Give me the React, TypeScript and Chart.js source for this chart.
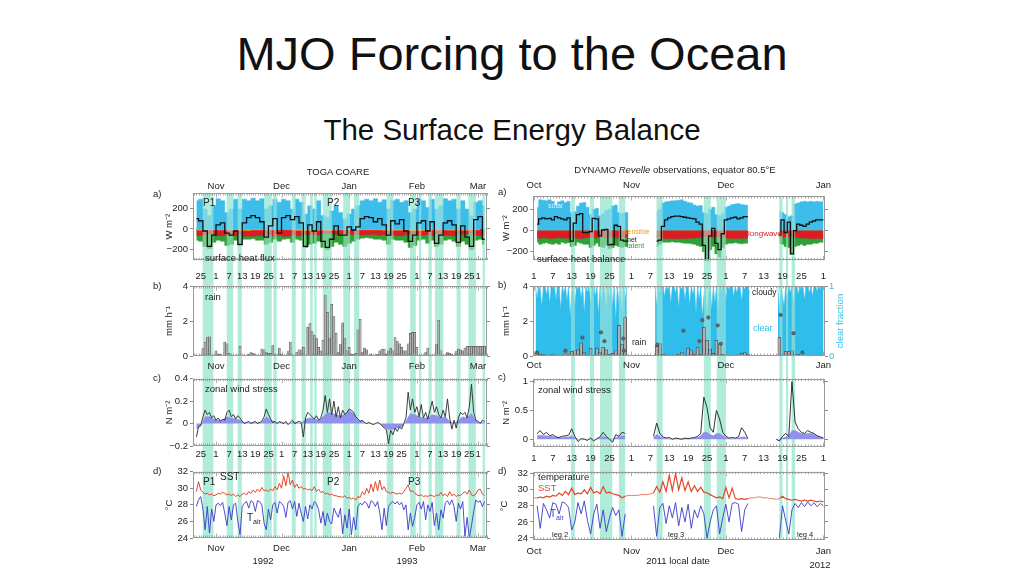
import React, { useEffect, useRef } from 'react';
import { Chart, registerables } from 'chart.js';

Chart.register(...registerables);

const FONT = "'Liberation Sans', Arial, Helvetica, sans-serif";
const TXT = '#222';
const FRAME = '#9a9a9a';
const TICK = '#8a8a8a';
const BAND = '#b0ecd9';
const BAND_OVER = 'rgba(176,236,217,0.55)';
const BLUE = '#3dbdea';
const GREEN = '#2f9f37';
const RED = '#dc1c24';
const ORANGE = '#f29a1f';
const PURPLE = '#8f91ec';
const SST_RED = '#e3462d';
const TAIR_BLUE = '#3a3acb';
const CYAN = '#2fbdeb';
const BAR_GRAY = '#b0b0b0';

// ---------------- axis labels ----------------
const L_MONTH_DAYS = [0, 30, 61, 92, 120];
const L_MONTH_LABELS = ['Nov', 'Dec', 'Jan', 'Feb', 'Mar'];
const L_DAY_TICKS = [-7, 0, 6, 12, 18, 24, 30, 36, 42, 48, 54, 61, 67, 73, 79, 85, 92, 98, 104, 110, 116, 120];
const L_DAY_LABELS = ['25', '1', '7', '13', '19', '25', '1', '7', '13', '19', '25', '1', '7', '13', '19', '25', '1', '7', '13', '19', '25', '1'];
const R_MONTH_DAYS = [0, 31, 61, 92];
const R_MONTH_LABELS = ['Oct', 'Nov', 'Dec', 'Jan'];
const R_DAY_TICKS = [0, 6, 12, 18, 24, 31, 37, 43, 49, 55, 61, 67, 73, 79, 85, 92];
const R_DAY_LABELS = ['1', '7', '13', '19', '25', '1', '7', '13', '19', '25', '1', '7', '13', '19', '25', '1'];

// rain-event bands [start, end] in days
const L_BANDS = [[-6.1, -1.2], [4.9, 7.9], [9.9, 11.8], [22.1, 25.5], [26.3, 27.8], [34.7, 36.5], [39.2, 41.1], [43.1, 44.3], [45, 46.1], [48.9, 53], [58.3, 61.4], [63.2, 65.6], [78.2, 81.2], [88.9, 91.5], [93, 94], [97.3, 98.8], [100.3, 104.1], [110.2, 112], [115.6, 119], [122.1, 123.2]];
const R_BANDS = [[11.8, 13.0], [17.8, 19.1], [21, 24.9], [27, 29], [39, 40.9], [54, 56.2], [58.1, 61], [78, 79], [80.1, 80.8], [81.9, 83]];

// ---------------- TOGA COARE (day 0 = 1 Nov 1992) ----------------
const L_FLUX_START = -9; // 2-day steps
const L_SOLAR = [275, 290, 195, 130, 225, 295, 275, 160, 195, 290, 195, 290, 275, 300, 275, 295, 195, 225, 290, 260, 290, 275, 195, 290, 260, 145, 225, 195, 275, 130, 115, 175, 225, 160, 95, 145, 195, 225, 275, 290, 275, 295, 260, 285, 195, 275, 290, 260, 275, 160, 195, 290, 275, 210, 290, 195, 225, 295, 275, 290, 195, 275, 195, 130, 260, 275, 225];
const L_NET = [100, 80, -20, -170, -60, 40, 60, -40, -60, -20, -150, 60, 110, 130, 110, 70, -80, 30, 100, -40, 110, 130, 90, 120, 60, -170, 40, -20, 70, -120, -180, -100, 30, -60, -60, 20, -10, 20, 100, 120, 110, 70, 100, 40, -60, 80, 50, 90, -20, -120, -60, 60, 80, -20, 70, -140, -60, 60, 80, 40, -130, 30, -80, -170, 90, 120, -100];
const L_LATENT = [-110, -120, -170, -190, -130, -110, -120, -160, -150, -110, -160, -100, -100, -95, -110, -110, -150, -130, -100, -120, -100, -95, -130, -100, -110, -180, -150, -140, -120, -180, -200, -170, -130, -150, -170, -140, -120, -100, -90, -85, -90, -100, -100, -110, -150, -100, -110, -110, -130, -180, -160, -110, -100, -140, -110, -170, -150, -110, -100, -120, -170, -120, -150, -200, -110, -100, -150];
const L_LONGWAVE = [-65, -60, -55, -50, -55, -65, -65, -55, -55, -65, -55, -70, -70, -70, -65, -65, -55, -60, -70, -60, -70, -70, -60, -65, -65, -50, -55, -55, -60, -45, -40, -45, -55, -50, -45, -50, -55, -55, -60, -55, -55, -55, -60, -55, -50, -60, -65, -65, -55, -50, -55, -60, -60, -55, -60, -50, -55, -60, -60, -65, -50, -55, -50, -45, -60, -60, -55];
const L_SENS_START = -9; // 10-day steps
const L_SENSIBLE = [-12, -10, -14, -10, -8, -15, -12, -10, -9, -12, -14, -10, -12, -10];

const L_RAIN_START = -8; // daily
const L_RAIN = [0, 0.05, 0.42, 0.8, 1.05, 1.1, 0, 0, 0.3, 0.1, 0.1, 0, 0.8, 0.7, 0.15, 0, 0, 0.05, 0, 0.55, 0, 0, 0, 0.1, 0.2, 0.15, 0.08, 0, 0, 0.4, 0.35, 0.2, 0.15, 0.15, 0.6, 0.1, 0, 0.45, 0.1, 0, 0, 0.25, 0.8, 0.05, 0, 0.2, 0.35, 0.35, 0.5, 0, 1.65, 1.85, 1.4, 1.2, 1.0, 0.5, 0.3, 0.9, 3.45, 2.5, 1.0, 2.95, 2.25, 1.3, 0.2, 0.65, 1.9, 1.0, 0.3, 0.5, 0.1, 0.1, 0.15, 1.5, 2.1, 0.2, 0.45, 0.35, 0.05, 0.1, 0, 0.05, 0.1, 0.3, 0.4, 0.4, 0.1, 0.3, 0.45, 0.3, 1.05, 0.85, 0.7, 0.5, 0.3, 0.3, 0.7, 1.3, 1.35, 1.35, 0.5, 0, 0, 0, 0.2, 0.45, 0, 0, 0, 0.65, 2.05, 0.3, 0, 0, 0.2, 0.15, 0.1, 0, 0.25, 0.4, 0.35, 0.3, 0.45, 0.55, 0.55, 0.55, 0.55, 0.55, 0.55, 0.55, 0.55, 0.55];

const L_DAILY_START = -9; // daily
const L_WIND = [-0.12, -0.03, -0.02, 0.06, 0.12, 0.08, 0.1, 0.05, 0.07, 0.03, 0.05, 0.02, 0.04, 0.03, 0.1, 0.12, 0.06, 0.08, 0.04, 0.07, 0.05, 0.02, 0.0, 0.01, 0.02, 0.0, 0.01, 0.02, 0.0, 0.01, 0.02, 0.06, 0.13, 0.08, 0.04, 0.01, 0.02, 0.0, 0.02, 0.01, 0.0, 0.02, -0.01, 0.01, 0.03, 0.0, 0.01, 0.02, 0.01, -0.12, 0.05, 0.1, 0.08, 0.06, 0.04, 0.07, 0.03, 0.05, 0.12, 0.25, 0.1, 0.22, 0.08, 0.2, 0.06, 0.15, 0.05, 0.12, 0.08, 0.1, 0.13, 0.12, 0.1, 0.06, 0.04, 0.02, 0.03, 0.01, 0.0, 0.01, 0.0, -0.01, 0.0, 0.01, 0.0, -0.02, -0.04, -0.05, -0.18, -0.06, -0.1, -0.04, -0.07, -0.03, -0.05, 0.0, 0.05, 0.28, 0.12, 0.22, 0.1, 0.15, 0.06, 0.17, 0.05, 0.1, 0.04, 0.12, 0.2, 0.1, 0.15, 0.08, 0.05, 0.12, 0.06, 0.22, 0.05, -0.05, 0.03, -0.04, 0.05, 0.1, 0.08, 0.1, 0.05, 0.15, 0.35, 0.1, 0.03, 0.02, 0.0, 0.03, 0.02];
const L_WIND_MEAN_START = -9; // 2-day steps
const L_WIND_MEAN = [-0.05, -0.02, 0.06, 0.06, 0.04, 0.03, 0.03, 0.06, 0.05, 0.04, 0.03, 0.01, 0.01, 0.01, 0.01, 0.01, 0.06, 0.03, 0.01, 0.01, 0.01, 0.0, 0.01, 0.01, 0.0, 0.04, 0.05, 0.04, 0.03, 0.06, 0.1, 0.09, 0.08, 0.07, 0.08, 0.12, 0.09, 0.03, 0.02, 0.0, 0.0, 0.0, 0.0, -0.03, -0.05, -0.05, -0.04, -0.03, 0.02, 0.09, 0.08, 0.06, 0.05, 0.05, 0.08, 0.07, 0.05, 0.06, 0.02, 0.0, 0.03, 0.06, 0.05, 0.09, 0.02, 0.01, 0.01];
const L_SST = [29.6, 30.8, 29.8, 29.5, 29.3, 29.4, 29.2, 29.3, 29.1, 29.2, 29.4, 29.3, 29.5, 29.4, 29.2, 29.3, 29.1, 29.3, 29.0, 29.2, 29.0, 29.3, 29.4, 29.2, 29.6, 29.4, 29.8, 29.5, 29.9, 29.6, 30.1, 29.7, 29.8, 29.6, 29.9, 29.7, 30.2, 29.8, 30.6, 30.0, 31.5, 30.3, 32.0, 30.4, 31.0, 30.1, 30.5, 30.0, 30.2, 29.9, 30.0, 29.8, 29.9, 29.7, 30.2, 29.6, 29.9, 29.5, 29.6, 29.3, 29.4, 29.2, 29.3, 29.1, 29.1, 29.0, 29.0, 28.9, 29.1, 28.8, 28.9, 28.7, 28.8, 28.6, 29.0, 28.9, 29.6, 29.2, 30.0, 29.4, 30.5, 29.6, 30.8, 29.7, 31.0, 29.8, 30.2, 29.6, 29.5, 29.4, 29.5, 29.4, 29.3, 29.4, 29.3, 29.6, 30.0, 30.4, 29.6, 29.7, 29.4, 29.2, 29.1, 29.2, 29.0, 29.1, 29.0, 29.2, 29.1, 29.0, 29.2, 29.1, 29.5, 29.1, 29.3, 29.0, 29.6, 29.1, 29.3, 29.0, 29.2, 29.1, 29.4, 29.6, 29.3, 29.8, 29.2, 29.1, 29.3, 29.8, 29.9, 29.3, 29.1];
const L_TAIR = [27.8, 28.6, 29.0, 27.5, 25.0, 27.8, 24.6, 27.5, 26.0, 28.0, 28.2, 27.9, 28.3, 27.0, 25.5, 27.8, 26.2, 28.0, 28.2, 26.0, 24.4, 27.8, 28.2, 28.4, 27.6, 28.5, 28.3, 27.2, 28.5, 28.4, 28.0, 25.8, 25.0, 27.5, 26.2, 28.0, 28.3, 27.0, 28.4, 28.2, 27.8, 26.5, 28.3, 28.5, 27.5, 28.4, 26.6, 28.2, 27.0, 26.0, 27.8, 26.3, 28.0, 27.5, 28.4, 28.1, 27.4, 25.8, 27.2, 25.5, 27.0, 26.0, 25.7, 27.6, 27.0, 26.5, 27.6, 24.5, 26.8, 25.2, 27.5, 24.4, 26.5, 25.0, 27.8, 28.2, 28.0, 28.4, 28.2, 27.6, 28.5, 28.3, 27.8, 28.4, 27.0, 25.0, 27.6, 25.5, 27.8, 28.2, 28.4, 28.1, 28.4, 28.0, 28.3, 27.4, 28.0, 25.0, 27.0, 25.4, 26.5, 28.0, 28.3, 27.5, 28.4, 26.2, 28.0, 27.2, 28.3, 25.5, 27.0, 25.0, 27.4, 26.4, 28.2, 28.5, 28.0, 28.6, 27.8, 26.0, 28.2, 27.5, 28.4, 24.2, 26.5, 24.0, 25.5, 27.2, 28.6, 28.3, 28.5, 27.8, 28.4];

// ---------------- DYNAMO (day 0 = 1 Oct 2011), daily ----------------
const R_START = 0;
const R_SOLAR = [null, 220, 290, 285, 280, 290, 275, 240, 270, 280, 265, 275, 170, 180, 230, 260, 265, 220, 150, 200, 210, 140, 160, 190, 200, 230, 240, 170, 160, 170, 170, null, null, null, null, null, null, null, null, 180, 200, 260, 270, 275, 280, 280, 285, 290, 275, 265, 260, 240, 230, 235, 170, 160, 200, 220, 150, 140, 160, 220, 230, 245, 250, 255, 245, 240, 240, null, null, null, null, null, null, null, null, null, 180, 170, 150, 130, 140, 250, 260, 270, 275, 270, 275, 270, 275, 270, 270];
const R_NET = [null, 60, 110, 120, 110, 115, 100, 130, 120, 110, 100, 120, -100, 70, 150, 160, -20, -20, -10, 115, 110, -50, 5, 10, -135, -130, 50, 40, -90, -100, -100, null, null, null, null, null, null, null, null, -100, -90, 40, 100, 120, 130, 135, 135, 130, 125, 120, 115, 110, 80, 60, -140, -290, -50, 20, -120, -180, -30, 100, 110, 120, 125, 110, 120, 130, 130, null, null, null, null, null, null, null, null, null, -40, 100, -20, 80, -220, 0, 60, 50, 40, 60, 80, 90, 100, 100, 100];
const R_LATENT = [null, -110, -130, -120, -115, -125, -130, -120, -130, -110, -120, -115, -150, -140, -110, -120, -130, -130, -160, -140, -120, -150, -160, -140, -170, -160, -140, -150, -160, -150, -150, null, null, null, null, null, null, null, null, -150, -130, -110, -110, -110, -105, -110, -110, -115, -120, -120, -125, -130, -140, -150, -200, -290, -180, -150, -220, -250, -160, -130, -120, -120, -115, -120, -125, -120, -120, null, null, null, null, null, null, null, null, null, -120, -130, -150, -160, -220, -150, -140, -130, -140, -130, -130, -120, -120, -110, -110];
const R_LONGWAVE = [null, -70, -72, -68, -70, -75, -72, -70, -68, -70, -72, -70, -65, -68, -72, -75, -70, -68, -62, -66, -70, -65, -64, -68, -60, -62, -68, -66, -62, -64, -64, null, null, null, null, null, null, null, null, -62, -66, -72, -75, -76, -78, -78, -76, -75, -74, -72, -72, -70, -68, -66, -60, -55, -62, -66, -58, -56, -64, -70, -72, -74, -75, -74, -72, -72, -72, null, null, null, null, null, null, null, null, null, -62, -64, -60, -58, -55, -62, -66, -70, -72, -72, -74, -75, -75, -76, -76];
const R_RAIN = [null, 0.15, 0.1, 0.08, 0.05, 0.05, 0.08, 0.05, 0.05, 0.02, 0.35, 0.05, 0.25, 0.3, 0.35, 0.75, 0.2, 0.05, 0.45, 0.05, 0.45, 0.2, 0.5, 0.35, 0.1, 0.15, 0.3, 1.75, 0.65, 2.2, null, null, null, null, null, null, null, null, null, 0.55, 0.7, 0.1, 0.05, 0.05, 0.03, 0.05, 0.1, 0.2, 0.05, 0.45, 0.3, 0.1, 0.5, 0.1, 1.65, 0.9, 0.4, 0.15, 0.9, 0.7, 0.1, 0.05, 0.03, 0.02, 0.03, 0.05, 0.15, 0.2, 0.1, null, null, null, null, null, null, null, null, null, 1.05, 0.05, 0.25, 0.25, 0.3, 0.05, 0.1, 0.05, 0.02, 0.02, 0.02, 0.02, 0.02, 0.02, null];
const R_RAIN_DOT_DAYS = [1, 10, 15.4, 21.3, 22.4, 28.4, 28.6, 39.2, 47.5, 52.6, 53.5, 55.4, 58.4, 59.4, 78.4, 82.5, 85.3];
const R_RAIN_DOTS = [0.2, 0.3, 1.05, 1.35, 0.85, 1.0, 0.3, 0.65, 1.45, 0.85, 2.05, 2.2, 1.75, 0.7, 2.35, 1.3, 0.2];
const R_CLEAR_LEG2_START = 0.5; // half-day steps
const R_CLEAR_LEG2 = [1, 0.82, 1, 0.95, 0.7, 1, 1, 0.88, 1, 0.75, 1, 0.97, 1, 0.8, 1, 1, 0.66, 1, 0.9, 1, 0.78, 1, 0.55, 0.9, 1, 0.7, 1, 0.95, 1, 0.82, 1, 0.6, 1, 0.9, 1, 0.72, 1, 1, 0.85, 1, 0.58, 1, 0.78, 1, 0.9, 0.65, 1, 0.8, 1, 0.7, 1, 0.5, 1, 0.75, 0.95, 0.6, 1, 0.8, 1];
const R_CLEAR_LEG3_START = 38.5;
const R_CLEAR_LEG3 = [1, 0.7, 1, 0.9, 1, 1, 0.85, 1, 0.95, 1, 0.75, 1, 1, 0.9, 1, 0.68, 1, 0.95, 1, 0.8, 1, 1, 0.72, 1, 0.88, 1, 0.6, 1, 0.8, 1, 0.55, 0.85, 1, 0.5, 0.9, 1, 0.65, 1, 0.75, 1, 0.6, 1, 0.9, 1, 1, 0.8, 1, 0.95, 1, 1, 0.85, 1, 0.9, 1, 1, 0.78, 1, 0.95, 1, 1, 0.9];
const R_CLEAR_LEG4_START = 77.5;
const R_CLEAR_LEG4 = [1, 0.62, 1, 0.85, 0.7, 1, 0.8, 1, 0.9, 1, 0.75, 1, 1, 0.88, 1, 0.95, 1, 0.8, 1, 1, 0.9, 1, 0.85, 1, 1, 0.92, 1, 0.95, 1, 1];
const R_CLEAR_GAPS = [34, 73];
const R_WIND = [null, 0.1, 0.15, 0.08, 0.12, 0.06, 0.08, 0.04, 0.03, 0.05, 0.06, 0.07, 0.18, 0.05, -0.04, 0.01, 0.0, -0.02, 0.02, -0.03, 0.01, 0.04, 0.12, 0.05, 0.0, -0.05, 0.08, 0.05, 0.12, 0.1, null, null, null, null, null, null, null, null, 0.05, 0.28, 0.1, 0.04, 0.02, 0.03, 0.0, 0.02, 0.01, 0.0, 0.02, 0.01, 0.02, 0.03, 0.05, 0.1, 0.73, 0.55, 0.2, 0.12, 0.5, 0.35, 0.12, 0.05, 0.02, 0.03, 0.02, 0.04, 0.2, 0.12, 0.01, null, null, null, null, null, null, null, null, 0.0, -0.03, 0.05, 0.1, 0.05, 1.0, 0.3, 0.18, 0.12, 0.1, 0.15, 0.12, 0.1, 0.06, 0.04, 0.02];
const R_WIND_MEAN = [null, 0.06, 0.07, 0.06, 0.06, 0.05, 0.05, 0.03, 0.03, 0.03, 0.04, 0.04, 0.06, 0.02, 0.0, 0.0, 0.0, 0.0, 0.0, 0.0, 0.0, 0.02, 0.05, 0.03, 0.0, 0.0, 0.03, 0.04, 0.06, 0.06, null, null, null, null, null, null, null, null, 0.03, 0.08, 0.05, 0.02, 0.01, 0.01, 0.0, 0.01, 0.01, 0.0, 0.01, 0.01, 0.01, 0.02, 0.03, 0.06, 0.12, 0.12, 0.08, 0.06, 0.1, 0.1, 0.06, 0.03, 0.01, 0.01, 0.01, 0.02, 0.04, 0.04, 0.01, null, null, null, null, null, null, null, null, 0.0, 0.0, 0.02, 0.04, 0.05, 0.15, 0.15, 0.12, 0.1, 0.09, 0.1, 0.1, 0.08, 0.05, 0.03, 0.02];
const R_SST = [29.0, 29.0, 29.1, 29.0, 29.2, 29.1, 29.3, 29.2, 29.6, 29.3, 29.8, 29.4, 30.2, 29.4, 29.6, 29.5, 30.0, 29.5, 30.3, 29.6, 29.8, 29.5, 30.4, 29.6, 29.7, 29.5, 29.4, 29.3, 29.0, 29.2, 29.3, 29.3, 29.3, 29.3, 29.4, 29.4, 29.4, 29.5, 29.6, 30.4, 29.7, 31.0, 29.8, 31.8, 29.9, 32.0, 30.0, 31.5, 29.9, 31.0, 29.8, 30.5, 29.8, 30.3, 29.7, 29.6, 29.4, 29.2, 29.0, 29.1, 28.9, 30.3, 29.0, 30.2, 28.9, 28.8, 28.9, 28.8, 28.9, 29.0, 29.0, 29.1, 29.1, 29.0, 29.0, 28.9, 28.9, 28.8, 28.9, 29.2, 28.9, 28.8, 28.7, 28.8, 28.7, 28.6, 28.7, 28.6, 28.7, 28.6, 28.5, 28.6, 28.5];
const R_TAIR = [null, 28.0, 25.2, 28.3, 27.5, 26.5, 28.4, 28.2, 27.0, 28.5, 28.3, 27.8, 25.0, 26.0, 28.4, 27.0, 28.6, 26.2, 24.5, 27.0, 28.2, 25.2, 27.5, 24.8, 26.5, 27.8, 26.8, 27.5, 24.2, 27.0, null, null, null, null, null, null, null, null, 28.0, 24.2, 27.8, 28.3, 25.8, 28.0, 26.5, 28.4, 25.5, 27.8, 26.0, 28.2, 25.2, 27.5, 26.5, 28.0, 27.0, 24.0, 26.0, 27.5, 28.0, 24.5, 26.5, 28.2, 26.0, 28.3, 28.4, 28.2, 24.8, 27.5, 28.3, null, null, null, null, null, null, null, null, null, 24.0, 28.0, 26.2, 24.5, 27.5, 28.3, 27.8, 28.4, 27.9, 28.5, 28.0, 28.4, 27.9, 28.3, 28.0];

// ---------------- helpers ----------------
const pts = (start: number, step: number, vals: (number | null)[]) => vals.map((v, i) => ({ x: start + i * step, y: v }));
const ptsXY = (xs: number[], ys: number[]) => xs.map((x, i) => ({ x, y: ys[i] }));

const stepFill = (data: any[], color: string, order: number) => ({
  type: 'line', data, stepped: 'middle', fill: 'origin', backgroundColor: color, borderColor: color,
  borderWidth: 0.5, pointRadius: 0, order, spanGaps: false,
});
const lineDs = (data: any[], color: string, width: number, order: number, extra: any = {}) => ({
  type: 'line', data, borderColor: color, borderWidth: width, pointRadius: 0, fill: false, order, spanGaps: false, ...extra,
});
const areaDs = (data: any[], color: string, order: number, extra: any = {}) => ({
  type: 'line', data, borderColor: color, backgroundColor: color, borderWidth: 0.5, pointRadius: 0, fill: 'origin', order, spanGaps: false, ...extra,
});

const COLS: any = {
  L: { left: 146, width: 349, leftW: 47, rightW: 8, xMin: -10.54, xMax: 124.1, bands: L_BANDS, majors: L_MONTH_DAYS, yTitlePad: 18 },
  R: { left: 490, width: 360, leftW: 43, rightW: 25, xMin: -0.3, xMax: 92.5, bands: R_BANDS, majors: R_MONTH_DAYS, yTitlePad: 11 },
};

function framePlugin(spec: any, col: any) {
  const drawBands = (chart: any, color: string, top: number, bottom: number) => {
    const { ctx, chartArea: a } = chart;
    const x = chart.scales.x;
    ctx.save();
    ctx.fillStyle = color;
    col.bands.forEach(([s, e]: number[]) => {
      const p0 = Math.max(a.left, x.getPixelForValue(s));
      const p1 = Math.min(a.right, x.getPixelForValue(e));
      if (p1 > p0) ctx.fillRect(p0, top, p1 - p0, bottom - top);
    });
    ctx.restore();
  };
  return {
    id: 'frame',
    beforeDraw(chart: any) {
      const a = chart.chartArea;
      const t = spec.bandTop === 'area' ? a.top : 0;
      const b = spec.bandBottom === 'area' ? a.bottom : chart.height;
      drawBands(chart, BAND, t, b);
    },
    beforeDatasetDraw(chart: any, args: any) {
      if (spec.overlayAt === undefined || args.index !== spec.overlayAt) return;
      const a = chart.chartArea;
      drawBands(chart, BAND_OVER, a.top, a.bottom);
    },
    afterDatasetsDraw(chart: any) {
      const { ctx, chartArea: a } = chart;
      const x = chart.scales.x;
      ctx.save();
      ctx.strokeStyle = TICK;
      ctx.lineWidth = 0.7;
      ctx.beginPath();
      for (let d = Math.ceil(col.xMin); d <= Math.floor(col.xMax); d++) {
        const px = Math.round(x.getPixelForValue(d)) + 0.5;
        const len = col.majors.includes(d) ? 4.5 : 2.5;
        ctx.moveTo(px, a.top);
        ctx.lineTo(px, a.top + len);
        ctx.moveTo(px, a.bottom);
        ctx.lineTo(px, a.bottom - len);
      }
      ctx.stroke();
      ctx.strokeStyle = FRAME;
      ctx.lineWidth = 1;
      ctx.strokeRect(Math.round(a.left) + 0.5, Math.round(a.top) + 0.5, Math.round(a.right - a.left) - 1, Math.round(a.bottom - a.top) - 1);
      ctx.restore();
    },
  };
}

function buildConfig(spec: any) {
  const col = COLS[spec.col];
  const font = { family: FONT, size: 9.5 };
  const xAxis = (position: string, info: any, h: number) => ({
    type: 'linear', axis: 'x', position, min: col.xMin, max: col.xMax, bounds: 'data', offset: false,
    afterBuildTicks: (s: any) => { s.ticks = (info ? info.ticks : [col.xMin]).map((v: number) => ({ value: v })); },
    afterFit: (s: any) => { s.height = h; },
    ticks: {
      display: !!info, autoSkip: false, maxRotation: 0, minRotation: 0, padding: info ? info.pad : 0, color: TXT, font,
      callback: (_v: any, i: number) => (info ? info.labels[i] : ''),
    },
    grid: { display: false, drawTicks: false, tickLength: 0, offset: false },
    border: { display: false },
  });
  const ra = spec.rightAxis;
  const scales: any = {
    x: xAxis('bottom', spec.bottomAxis, spec.bottomH),
    xTop: xAxis('top', spec.topAxis, spec.topH),
    y: {
      type: 'linear', axis: 'y', position: 'left', min: spec.yMin, max: spec.yMax, bounds: 'data',
      afterBuildTicks: (s: any) => { s.ticks = spec.yTicks.map((v: number) => ({ value: v })); },
      afterFit: (s: any) => { s.width = col.leftW; },
      ticks: { autoSkip: false, padding: 2, color: TXT, font, callback: (_v: any, i: number) => spec.yLabels[i] },
      grid: { display: true, drawOnChartArea: false, drawTicks: true, tickLength: 3, color: TICK },
      border: { display: false },
      title: { display: true, text: spec.yTitle, color: TXT, font, padding: { top: spec.yTitlePad ?? col.yTitlePad, bottom: 0 } },
    },
    yR: {
      type: 'linear', axis: 'y', position: 'right', min: ra ? ra.min : spec.yMin, max: ra ? ra.max : spec.yMax, bounds: 'data',
      afterBuildTicks: (s: any) => { s.ticks = (ra ? ra.ticks : spec.yTicks).map((v: number) => ({ value: v })); },
      afterFit: (s: any) => { s.width = col.rightW; },
      ticks: { display: !!ra, autoSkip: false, padding: 1, color: ra ? ra.color : TXT, font, callback: (_v: any, i: number) => (ra ? ra.labels[i] : '') },
      grid: { display: true, drawOnChartArea: false, drawTicks: true, tickLength: 3, color: TICK },
      border: { display: false },
    },
  };
  return {
    type: spec.kind,
    data: { datasets: spec.datasets },
    options: {
      animation: false, responsive: false, devicePixelRatio: 1, events: [],
      layout: { padding: 0 },
      plugins: { legend: { display: false }, tooltip: { enabled: false } },
      scales,
    },
    plugins: [framePlugin(spec, col)],
  };
}

const Y_T = [24, 26, 28, 30, 32];
const Y_T_LABELS = ['24', '26', '28', '30', '32'];

const PANELS: any[] = [
  // ---------- TOGA COARE ----------
  {
    col: 'L', top: 176, height: 92, topH: 17, bottomH: 6, kind: 'line',
    yMin: -305, yMax: 350, yTicks: [-200, 0, 200], yLabels: ['\u2212200', '0', '200'], yTitle: 'W m\u207B\u00B2',
    topAxis: { ticks: L_MONTH_DAYS, labels: L_MONTH_LABELS, pad: 1 },
    bandTop: 'area', bandBottom: 'canvas', overlayAt: 0,
    datasets: [
      lineDs(pts(L_FLUX_START, 2, L_NET), '#111', 1.3, 0, { stepped: 'middle' }),
      stepFill(pts(L_SENS_START, 10, L_SENSIBLE), ORANGE, 1),
      stepFill(pts(L_FLUX_START, 2, L_LONGWAVE), RED, 2),
      stepFill(pts(L_FLUX_START, 2, L_LATENT), GREEN, 3),
      stepFill(pts(L_FLUX_START, 2, L_SOLAR), BLUE, 4),
    ],
  },
  {
    col: 'L', top: 268, height: 103, topH: 18, bottomH: 15, kind: 'bar',
    yMin: 0, yMax: 4, yTicks: [0, 2, 4], yLabels: ['0', '2', '4'], yTitle: 'mm h\u207B\u00B9',
    topAxis: { ticks: L_DAY_TICKS, labels: L_DAY_LABELS, pad: 4 },
    bottomAxis: { ticks: L_MONTH_DAYS, labels: L_MONTH_LABELS, pad: 5 },
    bandTop: 'canvas', bandBottom: 'canvas',
    datasets: [
      { type: 'bar', data: pts(L_RAIN_START, 1, L_RAIN), backgroundColor: BAR_GRAY, borderColor: '#444', borderWidth: 0.5, barThickness: 2.1, order: 0 },
    ],
  },
  {
    col: 'L', top: 371, height: 93, topH: 6, bottomH: 18, kind: 'line',
    yMin: -0.2, yMax: 0.4, yTicks: [-0.2, 0, 0.2, 0.4], yLabels: ['\u22120.2', '0', '0.2', '0.4'], yTitle: 'N m\u207B\u00B2',
    bottomAxis: { ticks: L_DAY_TICKS, labels: L_DAY_LABELS, pad: 3 },
    bandTop: 'canvas', bandBottom: 'canvas',
    datasets: [
      lineDs(pts(L_DAILY_START, 1, L_WIND), '#2a2a2a', 0.9, 0),
      areaDs(pts(L_WIND_MEAN_START, 2, L_WIND_MEAN), PURPLE, 1),
    ],
  },
  {
    col: 'L', top: 464, height: 112, topH: 6, bottomH: 38, kind: 'line',
    yMin: 24, yMax: 32, yTicks: Y_T, yLabels: Y_T_LABELS, yTitle: '\u00B0C',
    bottomAxis: { ticks: L_MONTH_DAYS, labels: L_MONTH_LABELS, pad: 5 },
    bandTop: 'canvas', bandBottom: 'area',
    datasets: [
      lineDs(pts(L_DAILY_START, 1, L_SST), SST_RED, 1, 0),
      lineDs(pts(L_DAILY_START, 1, L_TAIR), TAIR_BLUE, 0.9, 1),
    ],
  },
  // ---------- DYNAMO ----------
  {
    col: 'R', top: 176, height: 92, topH: 20, bottomH: 7, kind: 'line',
    yMin: -280, yMax: 325, yTicks: [-200, 0, 200], yLabels: ['\u2212200', '0', '200'], yTitle: 'W m\u207B\u00B2',
    topAxis: { ticks: R_MONTH_DAYS, labels: R_MONTH_LABELS, pad: 5 },
    bandTop: 'area', bandBottom: 'canvas', overlayAt: 0,
    datasets: [
      lineDs(pts(R_START, 1, R_NET), '#111', 1.3, 0, { stepped: 'middle' }),
      stepFill(pts(R_START, 1, R_LONGWAVE), RED, 1),
      stepFill(pts(R_START, 1, R_LATENT), GREEN, 2),
      stepFill(pts(R_START, 1, R_SOLAR), BLUE, 3),
    ],
  },
  {
    col: 'R', top: 268, height: 103, topH: 18, bottomH: 15, kind: 'bar',
    yMin: 0, yMax: 4, yTicks: [0, 2, 4], yLabels: ['0', '2', '4'], yTitle: 'mm h\u207B\u00B9',
    topAxis: { ticks: R_DAY_TICKS, labels: R_DAY_LABELS, pad: 4 },
    bottomAxis: { ticks: R_MONTH_DAYS, labels: R_MONTH_LABELS, pad: 4 },
    rightAxis: { min: 0, max: 1, ticks: [0, 0.5, 1], labels: ['0', '', '1'], color: CYAN },
    bandTop: 'canvas', bandBottom: 'canvas', overlayAt: 1,
    datasets: [
      { type: 'line', data: ptsXY(R_RAIN_DOT_DAYS, R_RAIN_DOTS), showLine: false, pointRadius: 1.7, pointBackgroundColor: '#6a6a6a', pointBorderColor: '#333', pointBorderWidth: 0.5, order: 0 },
      { type: 'bar', data: pts(R_START, 1, R_RAIN).filter((p) => p.y !== null), backgroundColor: BAR_GRAY, borderColor: '#3a3a3a', borderWidth: 0.7, barThickness: 3, order: 1 },
      areaDs([
        ...pts(R_CLEAR_LEG2_START, 0.5, R_CLEAR_LEG2), { x: R_CLEAR_GAPS[0], y: null },
        ...pts(R_CLEAR_LEG3_START, 0.5, R_CLEAR_LEG3), { x: R_CLEAR_GAPS[1], y: null },
        ...pts(R_CLEAR_LEG4_START, 0.5, R_CLEAR_LEG4),
      ], CYAN, 2, { yAxisID: 'yR' }),
    ],
  },
  {
    col: 'R', top: 371, height: 93, topH: 6, bottomH: 17, kind: 'line',
    yMin: -0.135, yMax: 1.05, yTicks: [0, 0.5, 1], yLabels: ['0', '0.5', '1'], yTitle: 'N m\u207B\u00B2',
    bottomAxis: { ticks: R_DAY_TICKS, labels: R_DAY_LABELS, pad: 6 },
    bandTop: 'canvas', bandBottom: 'canvas',
    datasets: [
      lineDs(pts(R_START, 1, R_WIND), '#1e1e1e', 0.9, 0),
      areaDs(pts(R_START, 1, R_WIND_MEAN), PURPLE, 1),
    ],
  },
  {
    col: 'R', top: 464, height: 112, topH: 7, bottomH: 36, kind: 'line',
    yMin: 23.75, yMax: 32.25, yTicks: Y_T, yLabels: Y_T_LABELS, yTitle: '\u00B0C', yTitlePad: 9,
    bottomAxis: { ticks: R_MONTH_DAYS, labels: R_MONTH_LABELS, pad: 6 },
    bandTop: 'canvas', bandBottom: 'area',
    datasets: [
      lineDs(pts(R_START, 1, R_SST), SST_RED, 1.1, 0, {
        segment: { borderWidth: (c: any) => (R_TAIR[c.p0DataIndex] === null || R_TAIR[c.p1DataIndex] === null ? 0.7 : 1.2) },
      }),
      lineDs(pts(R_START, 1, R_TAIR), TAIR_BLUE, 0.9, 1),
    ],
  },
];

type Lbl = { t: React.ReactNode; x: number; y: number; s?: number; c?: string; center?: boolean };

const Tair = (
  <span>T<span style={{ fontSize: 7, position: 'relative', top: 3 }}>air</span></span>
);

const TEXTS: Lbl[] = [
  { t: 'TOGA COARE', x: 338, y: 172, center: true },
  { t: 'a)', x: 153, y: 194 }, { t: 'b)', x: 153, y: 286 }, { t: 'c)', x: 153, y: 378 }, { t: 'd)', x: 153, y: 471 },
  { t: 'P1', x: 203, y: 203, s: 10 }, { t: 'P2', x: 327, y: 203, s: 10 }, { t: 'P3', x: 408, y: 203, s: 10 },
  { t: 'surface heat flux', x: 205, y: 258 },
  { t: 'rain', x: 205, y: 297 },
  { t: 'zonal wind stress', x: 205, y: 389 },
  { t: 'P1', x: 203, y: 482, s: 10 }, { t: 'SST', x: 220, y: 477, s: 10 }, { t: 'P2', x: 327, y: 482, s: 10 }, { t: 'P3', x: 408, y: 482, s: 10 },
  { t: Tair, x: 247, y: 518, s: 10 },
  { t: '1992', x: 263, y: 561, center: true }, { t: '1993', x: 407, y: 561, center: true },
  { t: <span>DYNAMO <i>Revelle</i> observations, equator 80.5°E</span>, x: 675, y: 170, center: true },
  { t: 'a)', x: 498, y: 192 }, { t: 'b)', x: 498, y: 285 }, { t: 'c)', x: 498, y: 377 }, { t: 'd)', x: 498, y: 471 },
  { t: 'solar', x: 548, y: 206, s: 7, c: '#d6f3ff' },
  { t: 'sensible', x: 624, y: 232, s: 7, c: ORANGE },
  { t: 'net', x: 627, y: 240, s: 7 },
  { t: 'latent', x: 627, y: 246, s: 7, c: GREEN },
  { t: 'longwave', x: 748, y: 234, s: 8, c: RED },
  { t: 'surface heat balance', x: 537, y: 259 },
  { t: 'cloudy', x: 752, y: 293, s: 8.5 },
  { t: 'clear', x: 753, y: 329, s: 9, c: CYAN },
  { t: 'rain', x: 632, y: 343, s: 8.5 },
  { t: 'zonal wind stress', x: 538, y: 390 },
  { t: 'temperature', x: 538, y: 477 },
  { t: 'SST', x: 538, y: 488, c: SST_RED },
  { t: Tair, x: 550, y: 514, s: 10, c: TAIR_BLUE },
  { t: 'leg 2', x: 552, y: 535, s: 7.5 }, { t: 'leg 3', x: 668, y: 535, s: 7.5 }, { t: 'leg 4', x: 797, y: 535, s: 7.5 },
  { t: '2011 local date', x: 678, y: 561, center: true },
  { t: '2012', x: 820, y: 565, center: true },
];

function Panel({ spec }: { spec: any }) {
  const ref = useRef<HTMLCanvasElement | null>(null);
  const col = COLS[spec.col];
  useEffect(() => {
    if (!ref.current) return;
    const chart = new Chart(ref.current, buildConfig(spec) as any);
    return () => chart.destroy();
  }, [spec]);
  return (
    <canvas
      ref={ref}
      width={col.width}
      height={spec.height}
      style={{ position: 'absolute', left: col.left, top: spec.top, width: col.width, height: spec.height, display: 'block' }}
    />
  );
}

export default function App() {
  return (
    <div style={{ position: 'fixed', left: 0, top: 0, width: 1024, height: 576, background: '#fff', overflow: 'hidden', fontFamily: FONT }}>
      <div style={{ position: 'absolute', left: 0, top: 30, width: 1024, textAlign: 'center', fontSize: 47, lineHeight: 1, color: '#111' }}>
        MJO Forcing to the Ocean
      </div>
      <div style={{ position: 'absolute', left: 0, top: 115, width: 1024, textAlign: 'center', fontSize: 29.5, lineHeight: 1, color: '#111' }}>
        The Surface Energy Balance
      </div>
      {PANELS.map((p, i) => <Panel key={i} spec={p} />)}
      {TEXTS.map((l, i) => {
        const s = l.s ?? 9.5;
        return (
          <div
            key={i}
            style={{
              position: 'absolute', left: l.x, top: l.y - s * 0.55, fontSize: s, lineHeight: 1, color: l.c ?? TXT,
              whiteSpace: 'nowrap', transform: l.center ? 'translateX(-50%)' : undefined,
            }}
          >
            {l.t}
          </div>
        );
      })}
      <div style={{ position: 'absolute', left: 840, top: 321, fontSize: 9.5, lineHeight: 1, color: CYAN, whiteSpace: 'nowrap', transform: 'translate(-50%, -50%) rotate(-90deg)' }}>
        clear fraction
      </div>
    </div>
  );
}
